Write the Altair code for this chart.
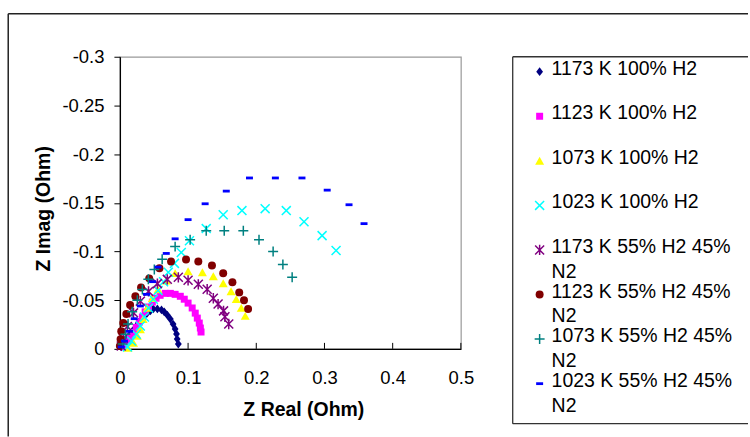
import altair as alt
import pandas as pd

FONT = "Liberation Sans"

series = ["1173 K 100% H2", "1123 K 100% H2", "1073 K 100% H2", "1023 K 100% H2",
          "1173 K 55% H2 45% N2", "1123 K 55% H2 45% N2", "1073 K 55% H2 45% N2",
          "1023 K 55% H2 45% N2"]
legend_line1 = ["1173 K 100% H2", "1123 K 100% H2", "1073 K 100% H2", "1023 K 100% H2",
                "1173 K 55% H2 45%", "1123 K 55% H2 45%", "1073 K 55% H2 45%",
                "1023 K 55% H2 45%"]
legend_line2 = ["", "", "", "", "N2", "N2", "N2", "N2"]

# 1173 K 100% H2 (navy diamonds)
s1_x = [0.002, 0.005, 0.0095, 0.014, 0.018, 0.0227, 0.027, 0.0315, 0.036, 0.040, 0.0447,
        0.049, 0.055, 0.061, 0.065, 0.0695, 0.074, 0.078, 0.081, 0.083, 0.084, 0.0857]
s1_y = [-0.002, -0.006, -0.010, -0.014, -0.018, -0.022, -0.0265, -0.0306, -0.034, -0.0367,
        -0.039, -0.041, -0.041, -0.040, -0.038, -0.0347, -0.0306, -0.0255, -0.0204, -0.0153,
        -0.010, -0.005]
# 1123 K 100% H2 (magenta squares)
s2_x = [0.0066, 0.011, 0.015, 0.020, 0.024, 0.0285, 0.033, 0.037, 0.042, 0.0476, 0.053,
        0.059, 0.0666, 0.074, 0.081, 0.0886, 0.0944, 0.100, 0.106, 0.1105, 0.1135, 0.1164,
        0.118, 0.119]
s2_y = [-0.002, -0.007, -0.012, -0.017, -0.022, -0.0275, -0.0327, -0.038, -0.043, -0.048,
        -0.052, -0.055, -0.057, -0.057, -0.056, -0.054, -0.051, -0.047, -0.042, -0.0367,
        -0.0316, -0.0265, -0.0214, -0.0173]
# 1073 K 100% H2 (yellow triangles)
s3_x = [0.012, 0.020, 0.0256, 0.030, 0.034, 0.040, 0.0476, 0.056, 0.068, 0.081, 0.100,
        0.121, 0.137, 0.1515, 0.163, 0.1706, 0.178, 0.1838]
s3_y = [-0.001, -0.006, -0.0133, -0.020, -0.0306, -0.042, -0.052, -0.061, -0.070, -0.0776,
        -0.0796, -0.0786, -0.0745, -0.0673, -0.059, -0.051, -0.042, -0.0337]
# 1023 K 100% H2 (cyan crosses)
s4_x = [0.011, 0.017, 0.024, 0.030, 0.036, 0.042, 0.049, 0.056, 0.064, 0.071, 0.080, 0.090,
        0.102, 0.1266, 0.1515, 0.179, 0.213, 0.244, 0.270, 0.2965, 0.317]
s4_y = [-0.002, -0.008, -0.015, -0.0235, -0.0327, -0.042, -0.051, -0.060, -0.069, -0.0786,
        -0.0878, -0.099, -0.111, -0.1235, -0.1378, -0.142, -0.144, -0.142, -0.1306, -0.1163,
        -0.101]
# 1173 K 55% H2 45% N2 (purple asterisks)
s5_x = [0.002, 0.005, 0.011, 0.020, 0.030, 0.042, 0.055, 0.0695, 0.0857, 0.100, 0.115,
        0.128, 0.137, 0.144, 0.152, 0.154, 0.1596]
s5_y = [-0.003, -0.011, -0.023, -0.037, -0.049, -0.059, -0.067, -0.0714, -0.0735, -0.0704,
        -0.0663, -0.0612, -0.052, -0.046, -0.039, -0.033, -0.0255]
# 1123 K 55% H2 45% N2 (maroon circles)
s6_x = [0.000, 0.001, 0.002, 0.005, 0.0095, 0.015, 0.0227, 0.031, 0.043, 0.058, 0.075,
        0.097, 0.115, 0.135, 0.1515, 0.165, 0.175, 0.182, 0.188]
s6_y = [-0.003, -0.010, -0.018, -0.0265, -0.0357, -0.045, -0.054, -0.063, -0.0724, -0.0827,
        -0.0898, -0.0918, -0.0898, -0.0857, -0.0776, -0.0684, -0.058, -0.050, -0.041]
# 1073 K 55% H2 45% N2 (teal plus)
s7_x = [0.004, 0.008, 0.012, 0.018, 0.0256, 0.033, 0.0417, 0.0505, 0.062, 0.081, 0.103,
        0.1266, 0.153, 0.181, 0.204, 0.2247, 0.239, 0.2526]
s7_y = [-0.005, -0.015, -0.0255, -0.038, -0.050, -0.061, -0.0714, -0.0816, -0.092, -0.105,
        -0.112, -0.1214, -0.1214, -0.1214, -0.112, -0.100, -0.0867, -0.0735]
# 1023 K 55% H2 45% N2 (blue dashes)
s8_x = [0.002, 0.0066, 0.014, 0.021, 0.030, 0.039, 0.048, 0.056, 0.068, 0.081, 0.100,
        0.125, 0.156, 0.190, 0.228, 0.267, 0.304, 0.336, 0.358]
s8_y = [-0.002, -0.008, -0.018, -0.031, -0.044, -0.056, -0.069, -0.084, -0.098, -0.113,
        -0.1327, -0.149, -0.162, -0.1755, -0.1755, -0.1755, -0.163, -0.148, -0.1286]

x_ticks = [0, 0.1, 0.2, 0.3, 0.4, 0.5]
y_ticks = [0, -0.05, -0.1, -0.15, -0.2, -0.25, -0.3]

colors = ["#000080", "#FF00FF", "#FFFF00", "#00FFFF", "#800080", "#800000", "#008080", "#0000FF"]
shapes = ["M0,-1.1L0.85,0L0,1.1L-0.85,0Z",
          "M-1,-1L1,-1L1,1L-1,1Z",
          "M0,-0.9L1,0.85L-1,0.85Z",
          "M-1,-1L1,1M-1,1L1,-1",
          "M-1,-1L1,1M-1,1L1,-1M0,-1.15L0,1.15",
          "circle",
          "M-1,0L1,0M0,-1L0,1",
          "M-1,-0.4L1,-0.4L1,0.4L-1,0.4Z"]
sizes = [64, 49, 81, 81, 81, 64, 100, 49]
widths = [0, 0, 0, 1.5, 1.5, 0, 1.5, 0]

xs = [s1_x, s2_x, s3_x, s4_x, s5_x, s6_x, s7_x, s8_x]
ys = [s1_y, s2_y, s3_y, s4_y, s5_y, s6_y, s7_y, s8_y]
rows = []
for name, sx, sy in zip(series, xs, ys):
    for a, b in zip(sx, sy):
        rows.append({"series": name, "zr": a, "zi": b})
df = pd.DataFrame(rows)

leg_df = pd.DataFrame({"series": series, "idx": list(range(len(series))),
                       "line1": legend_line1, "line2": legend_line2})

PW, PH = 342, 293

shape_enc = alt.Shape("series:N", scale=alt.Scale(domain=series, range=shapes), legend=None)
fill_enc = alt.Fill("series:N", scale=alt.Scale(domain=series, range=colors), legend=None)
stroke_enc = alt.Stroke("series:N", scale=alt.Scale(domain=series, range=colors), legend=None)
sw_enc = alt.StrokeWidth("series:N", scale=alt.Scale(type="ordinal", domain=series, range=widths), legend=None)
size_enc = alt.Size("series:N", scale=alt.Scale(type="ordinal", domain=series, range=sizes), legend=None)

x_axis = alt.Axis(values=x_ticks, format=".1~f", labelFontSize=18.5, labelColor="black",
                  labelFont=FONT, labelPadding=20, ticks=False, tickSize=0,
                  domainColor="black", domainWidth=1.3, grid=False, labelFlush=False,
                  labelOverlap=False, title="Z Real (Ohm)", titleFont=FONT, titleFontSize=19.5,
                  titleFontWeight="bold", titleColor="black", titleX=184, titleY=61,
                  titleAlign="center", titleBaseline="middle")
y_axis = alt.Axis(values=y_ticks,
                  labelExpr="replace(format(datum.value, '.2~f'), '\u2212', '-')",
                  labelFontSize=18.5, labelColor="black", labelFont=FONT, labelPadding=10,
                  tickSize=6, tickColor="black", tickWidth=1, domainColor="black",
                  domainWidth=1.3, grid=False, labelFlush=False, labelOverlap=False,
                  title="Z Imag (Ohm)", titleFont=FONT, titleFontSize=19.5,
                  titleFontWeight="bold", titleColor="black", titleAngle=270, titleX=-77,
                  titleY=152, titleAlign="center", titleBaseline="middle")

xs_scale = alt.Scale(domain=[0, 0.5], nice=False, zero=False)
ys_scale = alt.Scale(domain=[-0.3, 0], nice=False, zero=False, reverse=True)

# outer chart frame (only top and left edges fall inside the window)
frame_top = alt.Chart(alt.Data(values=[{}])).mark_rule(
    stroke="#222222", strokeWidth=1.5
).encode(x=alt.value(-112), x2=alt.value(630), y=alt.value(-43))
frame_left = alt.Chart(alt.Data(values=[{}])).mark_rule(
    stroke="#222222", strokeWidth=1.5
).encode(x=alt.value(-112), y=alt.value(-43), y2=alt.value(381))

tick_df = pd.DataFrame({"zr": x_ticks[1:]})
inner_ticks = alt.Chart(tick_df).mark_rule(color="black", strokeWidth=1).encode(
    x=alt.X("zr:Q", scale=xs_scale, axis=x_axis),
    y=alt.value(PH), y2=alt.value(PH - 6))

points = alt.Chart(df).mark_point(filled=True, opacity=1).encode(
    x=alt.X("zr:Q", scale=xs_scale, axis=x_axis),
    y=alt.Y("zi:Q", scale=ys_scale, axis=y_axis),
    shape=shape_enc, fill=fill_enc, stroke=stroke_enc, strokeWidth=sw_enc, size=size_enc)

plot = alt.layer(frame_top, frame_left, inner_ticks, points).properties(
    width=PW, height=PH, view=alt.ViewBackground(stroke="#999999", strokeWidth=1.2))

LW, LH = 236, 368
leg_scale = alt.Scale(domain=[-0.3356, 7.897], reverse=True, nice=False, zero=False)
leg_base = alt.Chart(leg_df)
box_top = alt.Chart(alt.Data(values=[{}])).mark_rule(stroke="#333333", strokeWidth=1.3).encode(
    x=alt.value(0), x2=alt.value(LW), y=alt.value(0))
box_left = alt.Chart(alt.Data(values=[{}])).mark_rule(stroke="#333333", strokeWidth=1.3).encode(
    x=alt.value(0), y=alt.value(0), y2=alt.value(LH))
box_bottom = alt.Chart(alt.Data(values=[{}])).mark_rule(stroke="#333333", strokeWidth=1.3).encode(
    x=alt.value(0), x2=alt.value(LW), y=alt.value(LH))
leg_sym = leg_base.mark_point(filled=True, opacity=1).encode(
    x=alt.value(27), y=alt.Y("idx:Q", scale=leg_scale, axis=None),
    shape=shape_enc, fill=fill_enc, stroke=stroke_enc, strokeWidth=sw_enc, size=size_enc)
leg_t1 = leg_base.mark_text(align="left", baseline="middle", font=FONT, fontSize=19.5,
                            color="black", dy=-3).encode(
    x=alt.value(39), y=alt.Y("idx:Q", scale=leg_scale, axis=None), text="line1:N")
leg_t2 = leg_base.mark_text(align="left", baseline="middle", font=FONT, fontSize=19.5,
                            color="black", dy=22).encode(
    x=alt.value(39), y=alt.Y("idx:Q", scale=leg_scale, axis=None), text="line2:N")
legend = alt.layer(box_top, box_left, box_bottom, leg_sym, leg_t1, leg_t2).properties(
    width=LW, height=LH, view=alt.ViewBackground(stroke="transparent"))

chart = alt.hconcat(plot, legend, spacing=52, bounds="flush").resolve_scale(
    x="independent", y="independent"
).properties(
    padding={"left": 6.25, "top": 11.25, "right": 0, "bottom": 0},
    background="white"
).configure_view(fill="white")

chart.save("out.html", embed_options={"renderer": "svg", "actions": False})
